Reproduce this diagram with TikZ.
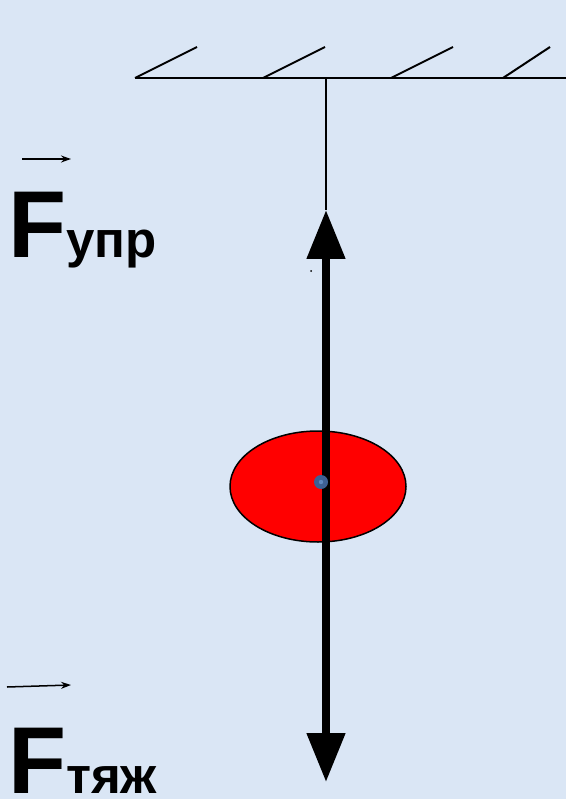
\documentclass[tikz,border=0pt]{standalone}
\usepackage{fontspec}
\setmainfont{Liberation Sans}
\usetikzlibrary{arrows.meta,shapes.geometric}
\definecolor{bgblue}{RGB}{218,230,245}
\definecolor{dotblue}{RGB}{62,96,148}
\definecolor{dotlight}{RGB}{95,135,190}
\tikzset{
  thin line/.style={line width=2pt, black},
  force/.style={line width=8pt, {Triangle[width=37pt,length=49pt]}-{Triangle[width=37pt,length=49pt]}},
  vecarrow/.style={line width=1.5pt, -{Stealth[length=10pt,width=7pt]}},
  label/.style={anchor=base west, inner sep=0pt, text depth=0pt, font=\bfseries}
}
\begin{document}
\begin{tikzpicture}[x=1pt,y=-1pt]
\fill[bgblue] (0,0) rectangle (566,799);
\useasboundingbox (0,0) rectangle (566,799);
% ceiling
\coordinate (cL) at (135,78);
\coordinate (cR) at (566,78);
\coordinate (cM) at (326,78);
\draw[thin line] (cL) -- (cR);
\coordinate (h1a) at (135,78); \coordinate (h1b) at (197,47);
\coordinate (h2a) at (263,78); \coordinate (h2b) at (325,47);
\coordinate (h3a) at (391,78); \coordinate (h3b) at (453,47);
\coordinate (h4a) at (503,78); \coordinate (h4b) at (550,47);
\draw[thin line] (h1a) -- (h1b);
\draw[thin line] (h2a) -- (h2b);
\draw[thin line] (h3a) -- (h3b);
\draw[thin line] (h4a) -- (h4b);
% thread
\coordinate (top) at (326,210);
\coordinate (bot) at (326,782);
\draw[thin line] (cM) -- (top);
% body
\node[ellipse, draw=black, line width=1.5pt, fill=red, minimum width=176pt, minimum height=111pt, inner sep=0pt] (body) at (318,486.5) {};
% forces
\draw[force] (bot) -- (top);
% centre dot
\fill[dotblue] (321,482) circle (7pt);
\fill[dotlight] (321,482) circle (2.2pt);
% speck
\fill[black] (311,271) circle (1pt);
% labels
\coordinate (v1a) at (22,159); \coordinate (v1b) at (71,159);
\draw[vecarrow] (v1a) -- (v1b);
\node[label] (Fupr) at (8,258) {\fontsize{95}{95}\selectfont F{\fontsize{51}{51}\selectfont упр}};
\coordinate (v2a) at (7,687); \coordinate (v2b) at (71,685);
\draw[vecarrow] (v2a) -- (v2b);
\node[label] (Ftyazh) at (8,793) {\fontsize{95}{95}\selectfont F{\fontsize{51}{51}\selectfont тяж}};
\end{tikzpicture}
\end{document}
